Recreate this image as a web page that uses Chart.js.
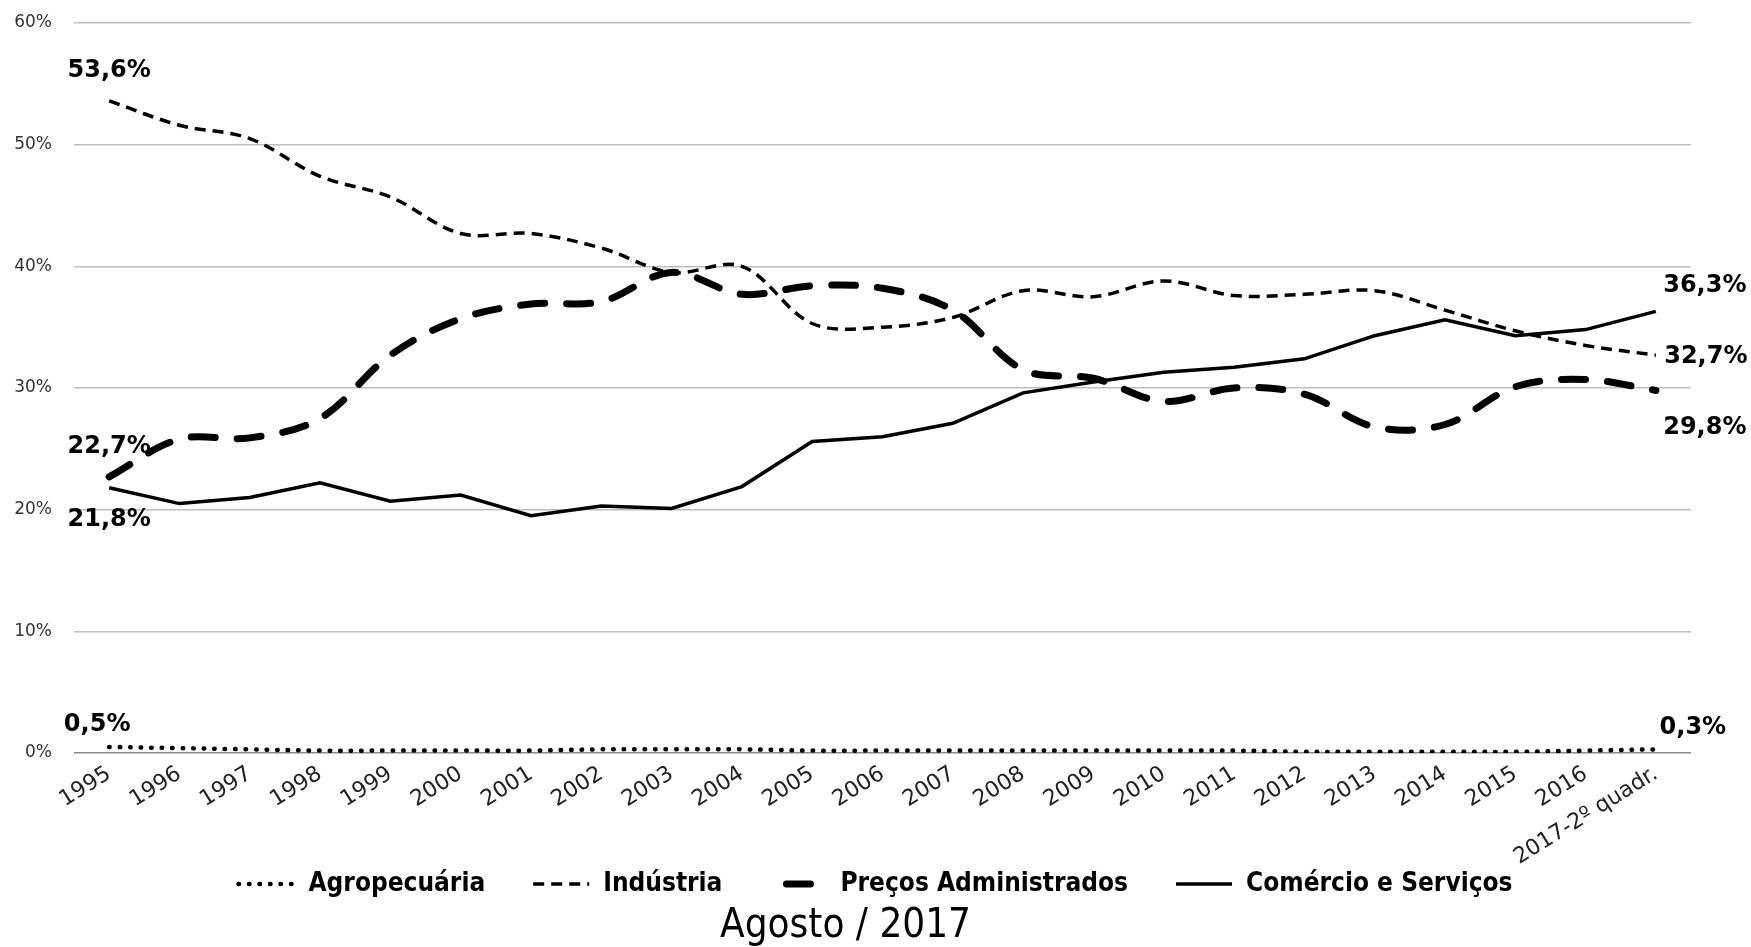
<!DOCTYPE html>
<html>
<head>
<meta charset="utf-8">
<script src="https://cdn.jsdelivr.net/npm/chart.js@4.4.1/dist/chart.umd.min.js"></script>
<style>
  html, body { margin: 0; background: #fff; }
  canvas { display: block; }
</style>
</head>
<body>
<canvas id="chart" width="1751" height="947"></canvas>
<script>
const years = ['1995', '1996', '1997', '1998', '1999', '2000', '2001', '2002', '2003', '2004', '2005',
  '2006', '2007', '2008', '2009', '2010', '2011', '2012', '2013', '2014', '2015', '2016', '2017-2º quadr.'];

const agropecuaria = [0.5, 0.4, 0.3, 0.2, 0.2, 0.2, 0.2, 0.3, 0.3, 0.3, 0.2, 0.2,
  0.2, 0.2, 0.2, 0.2, 0.2, 0.1, 0.1, 0.1, 0.1, 0.2, 0.3];
const industria = [53.6, 51.6, 50.5, 47.4, 45.7, 42.7, 42.7, 41.5, 39.5, 40.0, 35.3, 35.0,
  35.8, 38.0, 37.5, 38.8, 37.6, 37.7, 38.0, 36.4, 34.7, 33.5, 32.7];
const precosAdministrados = [22.7, 25.8, 25.9, 27.5, 32.7, 35.7, 36.9, 37.1, 39.5, 37.7, 38.4, 38.2,
  36.4, 31.5, 30.8, 28.9, 30.0, 29.5, 26.8, 27.0, 30.1, 30.7, 29.8];
const comercioServicos = [21.8, 20.5, 21.0, 22.2, 20.7, 21.2, 19.5, 20.3, 20.1, 21.9, 25.6, 26.0,
  27.1, 29.6, 30.5, 31.3, 31.7, 32.4, 34.3, 35.6, 34.3, 34.8, 36.3];

const fmtPct = v => v.toFixed(1).replace('.', ',') + '%';

// first / last value labels
const endLabels = {
  id: 'endLabels',
  afterDatasetsDraw(chart, args, opts) {
    const { ctx, scales: { x, y } } = chart;
    ctx.save();
    ctx.font = opts.font;
    ctx.fillStyle = '#000';
    ctx.textAlign = 'center';
    ctx.textBaseline = 'middle';
    chart.data.datasets.forEach((ds, i) => {
      const off = opts.offsets[i];
      const last = ds.data.length - 1;
      [[0, off.first], [last, off.last]].forEach(([idx, d]) => {
        const v = ds.data[idx];
        ctx.fillText(fmtPct(v), x.getPixelForValue(idx) + d[0], y.getPixelForValue(v) + d[1]);
      });
    });
    ctx.restore();
  }
};

// legend drawn with the real dash patterns
const lineLegend = {
  id: 'lineLegend',
  afterDraw(chart, args, opts) {
    const ctx = chart.ctx;
    ctx.save();
    ctx.font = opts.font;
    const items = chart.data.datasets.map((ds, i) => ({
      ds, i, w: opts.boxWidth + opts.textGap + ctx.measureText(ds.label).width
    }));
    const total = items.reduce((s, it) => s + it.w, 0) + opts.itemGap * (items.length - 1);
    let x = (chart.width - total) / 2;
    const yy = chart.chartArea.bottom + opts.offsetY;
    items.forEach(({ ds, i, w }) => {
      ctx.beginPath();
      ctx.strokeStyle = ds.borderColor;
      ctx.lineWidth = ds.borderWidth;
      ctx.lineCap = ds.borderCapStyle || 'butt';
      ctx.setLineDash(ds.borderDash || []);
      ctx.lineDashOffset = opts.dashOffsets[i] || 0;
      ctx.moveTo(x, yy);
      ctx.lineTo(x + opts.boxWidth, yy);
      ctx.stroke();
      ctx.setLineDash([]);
      ctx.fillStyle = '#000';
      ctx.textAlign = 'left';
      ctx.textBaseline = 'middle';
      ctx.fillText(ds.label, x + opts.boxWidth + opts.textGap, yy);
      x += w + opts.itemGap;
    });
    ctx.restore();
  }
};

new Chart(document.getElementById('chart'), {
  type: 'line',
  data: {
    labels: years,
    datasets: [
      { label: 'Agropecuária', data: agropecuaria, borderColor: '#000', borderWidth: 4.5,
        borderDash: [0.5, 10], borderCapStyle: 'round', tension: 0.35 },
      { label: 'Indústria', data: industria, borderColor: '#000', borderWidth: 3.5,
        borderDash: [11, 7], tension: 0.35 },
      { label: 'Preços Administrados', data: precosAdministrados, borderColor: '#000', borderWidth: 7,
        borderDash: [24, 22], borderCapStyle: 'round', tension: 0.35 },
      { label: 'Comércio e Serviços', data: comercioServicos, borderColor: '#000', borderWidth: 3.5,
        tension: 0 }
    ]
  },
  options: {
    responsive: false,
    animation: false,
    elements: { point: { radius: 0 } },
    layout: { padding: { top: 23, left: 0, right: 60, bottom: 0 } },
    scales: {
      x: {
        offset: true,
        grid: { display: false, drawTicks: false },
        border: { display: false },
        afterFit: s => { s.height = 154; },
        ticks: {
          autoSkip: false, minRotation: 32, maxRotation: 32, padding: 8,
          color: '#222', font: { family: 'DejaVu Sans', size: 22 }
        }
      },
      y: {
        min: 0, max: 60,
        afterFit: s => { s.width = 74; s.paddingTop = 0; s.paddingBottom = 0; },
        border: { display: false },
        grid: {
          drawTicks: false, lineWidth: 1.6,
          color: c => c.tick.value === 0 ? '#898989' : '#bdbdbd'
        },
        ticks: {
          stepSize: 10, padding: 22, color: '#333',
          font: { family: 'DejaVu Sans', size: 17 },
          callback: v => v + '%'
        }
      }
    },
    plugins: {
      legend: { display: false },
      tooltip: { enabled: false },
      title: {
        display: true, position: 'bottom', text: 'Agosto / 2017', color: '#000',
        padding: 0, font: { family: "'Liberation Sans Narrow', 'DejaVu Sans Condensed'", size: 40, weight: 'normal', lineHeight: 1 }
      },
      endLabels: {
        font: 'bold 24px "DejaVu Sans"',
        offsets: [
          { first: [-12, -22], last: [37, -22] },
          { first: [0, -30], last: [50, 2] },
          { first: [0, -30], last: [49, 37] },
          { first: [0, 32], last: [49, -26] }
        ]
      },
      lineLegend: {
        font: 'bold 26px "DejaVu Sans Condensed"',
        boxWidth: 56, textGap: 14, itemGap: 48, offsetY: 131,
        dashOffsets: [0, 0, 30, 0]
      }
    }
  },
  plugins: [endLabels, lineLegend]
});
</script>
</body>
</html>
